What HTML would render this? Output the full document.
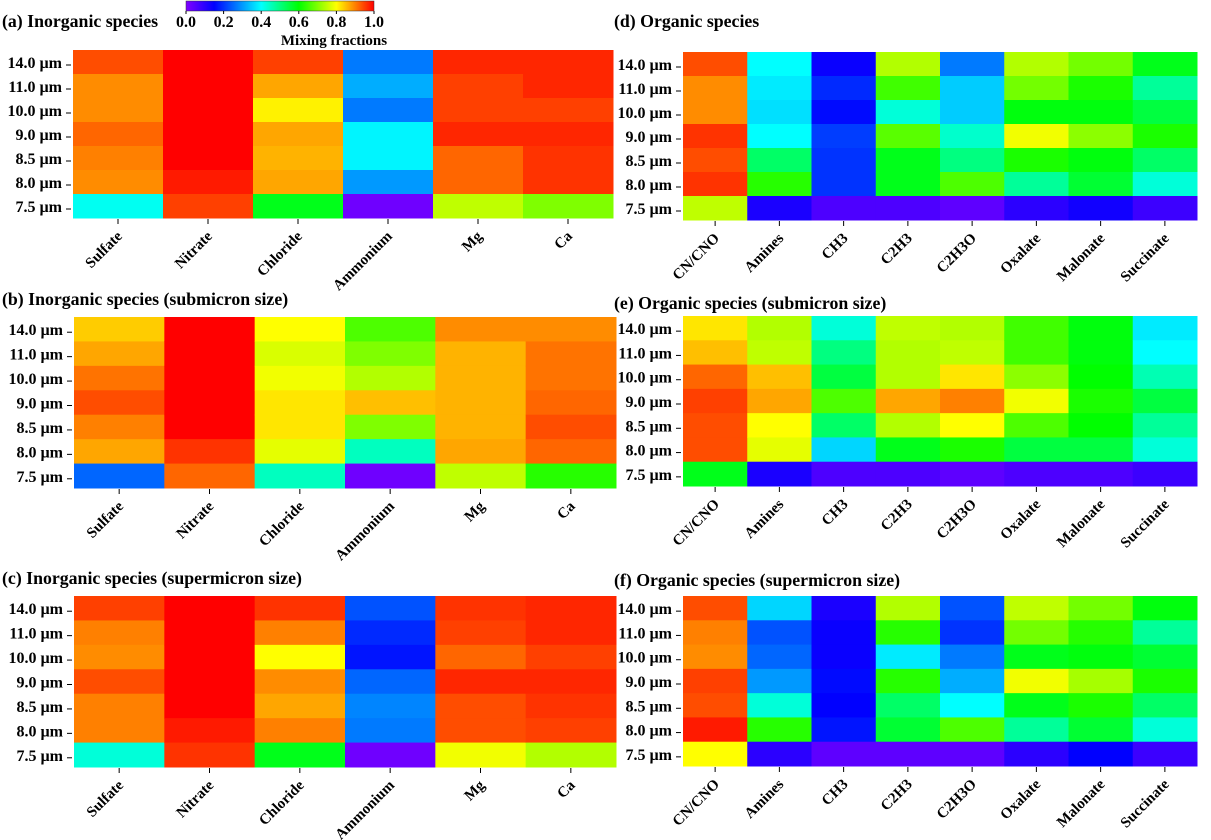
<!DOCTYPE html>
<html><head><meta charset="utf-8">
<style>
body{margin:0;background:#fff;}
svg{display:block;font-family:"Liberation Serif",serif;font-weight:bold;}
</style></head>
<body>
<svg id="chart" width="1211" height="840"></svg>
<script>
const sizes = ["14.0 µm","11.0 µm","10.0 µm","9.0 µm","8.5 µm","8.0 µm","7.5 µm"];
const inorgSpecies = ["Sulfate","Nitrate","Chloride","Ammonium","Mg","Ca"];
const orgSpecies = ["CN/CNO","Amines","CH3","C2H3","C2H3O","Oxalate","Malonate","Succinate"];
const cbTicks = [0.0,0.2,0.4,0.6,0.8,1.0];
// values[col][row], rows ordered as sizes
const valsA = [[0.94,0.89,0.89,0.92,0.9,0.89,0.41],[1,1,1,1,1,0.98,0.95],[0.95,0.87,0.81,0.87,0.86,0.87,0.58],[0.27,0.32,0.27,0.39,0.39,0.3,0.02],[0.97,0.95,0.95,0.97,0.92,0.92,0.75],[0.97,0.97,0.95,0.97,0.96,0.96,0.7]];
const valsB = [[0.84,0.87,0.91,0.94,0.9,0.87,0.25],[1,1,1,1,1,0.96,0.92],[0.8,0.77,0.79,0.82,0.82,0.78,0.45],[0.66,0.7,0.74,0.85,0.7,0.45,0.02],[0.89,0.86,0.86,0.86,0.86,0.87,0.75],[0.89,0.91,0.91,0.92,0.94,0.92,0.63]];
const valsC = [[0.95,0.9,0.89,0.94,0.9,0.9,0.43],[1,1,1,1,1,0.98,0.96],[0.96,0.9,0.8,0.89,0.87,0.9,0.58],[0.23,0.19,0.17,0.25,0.28,0.27,0.02],[0.96,0.95,0.92,0.97,0.94,0.94,0.79],[0.97,0.97,0.95,0.97,0.96,0.95,0.74]];
const valsD = [[0.94,0.89,0.89,0.96,0.94,0.96,0.75],[0.4,0.38,0.37,0.4,0.52,0.63,0.12],[0.14,0.19,0.16,0.21,0.2,0.2,0.06],[0.74,0.65,0.43,0.67,0.58,0.58,0.06],[0.27,0.35,0.35,0.44,0.5,0.66,0.04],[0.74,0.69,0.59,0.79,0.62,0.48,0.1],[0.69,0.62,0.59,0.71,0.59,0.56,0.13],[0.58,0.48,0.55,0.62,0.52,0.43,0.08]];
const valsE = [[0.82,0.85,0.92,0.95,0.94,0.94,0.58],[0.74,0.75,0.85,0.87,0.8,0.78,0.12],[0.43,0.5,0.55,0.66,0.52,0.36,0.06],[0.75,0.74,0.74,0.87,0.74,0.58,0.06],[0.74,0.75,0.82,0.9,0.8,0.62,0.04],[0.65,0.65,0.71,0.79,0.66,0.55,0.06],[0.59,0.59,0.6,0.62,0.6,0.55,0.06],[0.38,0.4,0.46,0.55,0.48,0.43,0.08]];
const valsF = [[0.94,0.9,0.89,0.95,0.94,0.98,0.8],[0.36,0.23,0.25,0.3,0.43,0.63,0.1],[0.12,0.14,0.14,0.16,0.15,0.17,0.04],[0.74,0.63,0.38,0.63,0.52,0.56,0.04],[0.23,0.2,0.27,0.32,0.4,0.66,0.04],[0.75,0.69,0.58,0.79,0.58,0.48,0.1],[0.69,0.63,0.59,0.73,0.62,0.56,0.15],[0.59,0.48,0.56,0.62,0.52,0.43,0.08]];

const NS="http://www.w3.org/2000/svg";
const svg=document.getElementById('chart');
const stops=[[0,[128,0,255]],[0.15,[0,0,255]],[0.4,[0,255,255]],[0.6,[0,255,0]],[0.8,[255,255,0]],[1,[255,0,0]]];
function cmap(v){v=Math.max(0,Math.min(1,v));for(let i=1;i<stops.length;i++){if(v<=stops[i][0]){const a=stops[i-1],b=stops[i];const t=(v-a[0])/(b[0]-a[0]);const c=a[1].map((x,k)=>Math.round(x+(b[1][k]-x)*t));return `rgb(${c})`;}}return 'rgb(255,0,0)';}
function el(tag,attrs,parent){const e=document.createElementNS(NS,tag);for(const k in attrs)e.setAttribute(k,attrs[k]);(parent||svg).appendChild(e);return e;}

// colorbar
const cb={x0:186,x1:374,y:1,h:10};
const grad=el('linearGradient',{id:'cbg',x1:'0',x2:'1',y1:'0',y2:'0'},el('defs',{}));
stops.forEach(s=>el('stop',{offset:s[0],'stop-color':cmap(s[0])},grad));
const cbRect=el('rect',{x:cb.x0,y:cb.y,width:cb.x1-cb.x0,height:cb.h,fill:'url(#cbg)',stroke:'#333','stroke-width':0.5});


cbTicks.forEach(t=>{const x=cb.x0+t*(cb.x1-cb.x0);
 el('line',{x1:x,x2:x,y1:cb.y+cb.h,y2:cb.y+cb.h+3,stroke:'#000'});
 const tx=el('text',{x:x,y:27,'text-anchor':'middle','font-size':16},svg);tx.textContent=t.toFixed(1);
 
 });
const cbt=el('text',{x:334,y:45,'text-anchor':'middle','font-size':15});cbt.textContent='Mixing fractions';



function panel(name,title,tx,ty,x0,x1,y0,y1,cats,vals){
 const g=el('g',{});
 
 
 const t=el('text',{x:tx,y:ty,'font-size':17.8},g);t.textContent=title;
 
 
 const cw=(x1-x0)/cats.length, rh=(y1-y0)/sizes.length;
 vals.forEach((col,ci)=>col.forEach((v,ri)=>{
  const r=el('rect',{x:x0+ci*cw,y:y0+ri*rh,width:cw+0.5,height:rh+0.5,fill:cmap(v)},g);
  
  
 }));
 sizes.forEach((s,ri)=>{const y=y0+(ri+0.5)*rh;
  el('line',{x1:x0-7,x2:x0-2,y1:y+3,y2:y+3,stroke:'#000'},g);
  const l=el('text',{x:x0-11,y:y+6,'text-anchor':'end','font-size':16},g);l.textContent=s;
  
  });
 cats.forEach((c,ci)=>{const x=x0+(ci+0.5)*cw;
  el('line',{x1:x,x2:x,y1:y1+1,y2:y1+6,stroke:'#000'},g);
  const l=el('text',{x:x+5,y:y1+19,'text-anchor':'end','font-size':15,transform:`rotate(-45 ${x+5} ${y1+19})`},g);l.textContent=c;
  
  });
}
panel('panel-a','(a) Inorganic species',2,27,73,613,50,218,inorgSpecies,valsA);
panel('panel-b','(b) Inorganic species (submicron size)',2,305,74,616,317,488,inorgSpecies,valsB);
panel('panel-c','(c) Inorganic species (supermicron size)',2,584,74,616,596,767,inorgSpecies,valsC);
panel('panel-d','(d) Organic species',614,27,683,1197,52,220,orgSpecies,valsD);
panel('panel-e','(e) Organic species (submicron size)',614,309,683,1197,316,486,orgSpecies,valsE);
panel('panel-f','(f) Organic species (supermicron size)',614,586,683,1197,596,766,orgSpecies,valsF);
</script>
</body></html>
